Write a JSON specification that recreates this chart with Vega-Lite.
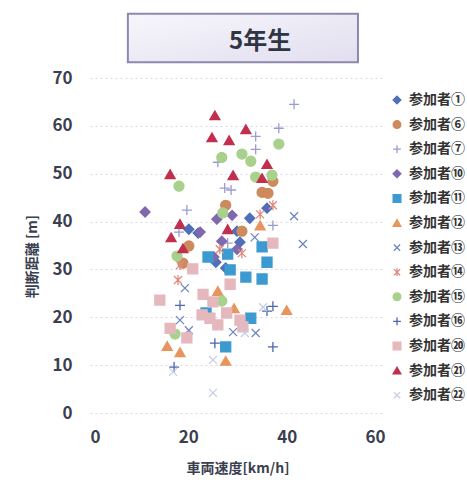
{
  "$schema": "https://vega.github.io/schema/vega-lite/v6.json",
  "autosize": "none",
  "width": 295,
  "height": 335,
  "padding": {"left": 90, "top": 78, "right": 82, "bottom": 80},
  "background": "#ffffff",
  "config": {
    "font": "Noto Sans CJK JP",
    "view": {"stroke": null},
    "axis": {
      "domain": false,
      "ticks": false,
      "labelFontSize": 17,
      "labelFontWeight": "bold",
      "labelColor": "#3a3f4f",
      "titleFontSize": 14,
      "titleFontWeight": "bold",
      "titleColor": "#3a3f4f"
    },
    "legend": {
      "orient": "none",
      "legendX": 300,
      "legendY": 15,
      "padding": 0,
      "title": null,
      "labelFontSize": 14,
      "labelFontWeight": "bold",
      "labelColor": "#333333",
      "labelOffset": 5,
      "labelLimit": 200,
      "symbolSize": 60,
      "symbolStrokeWidth": 1.3,
      "rowPadding": 10.6
    }
  },
  "layer": [
    {
      "data": {"values": [{}]},
      "mark": {
        "type": "rect",
        "stroke": "#8f88ad",
        "strokeWidth": 2,
        "fill": {
          "gradient": "linear",
          "x1": 0, "y1": 0, "x2": 1, "y2": 1,
          "stops": [
            {"offset": 0, "color": "#f7f6fb"},
            {"offset": 1, "color": "#e2def0"}
          ]
        }
      },
      "encoding": {
        "x": {"datum": 7.7, "type": "quantitative", "scale": {"domain": [0, 60], "nice": false}},
        "x2": {"datum": 54.5},
        "y": {"datum": 83.4, "type": "quantitative", "scale": {"domain": [0, 70], "nice": false}},
        "y2": {"datum": 73.3}
      }
    },
    {
      "data": {"values": [{}]},
      "mark": {
        "type": "text",
        "text": "5年生",
        "fontSize": 24,
        "fontWeight": "bold",
        "color": "#2f3545",
        "align": "center",
        "baseline": "middle"
      },
      "encoding": {
        "x": {"datum": 34.6, "type": "quantitative"},
        "y": {"datum": 77.6, "type": "quantitative"}
      }
    },
    {
      "data": {
        "values": [
          {"p": "参加者①", "v": 36.0, "d": 42.8},
          {"p": "参加者①", "v": 32.5, "d": 40.7},
          {"p": "参加者①", "v": 22.0, "d": 37.6},
          {"p": "参加者①", "v": 20.1, "d": 38.4},
          {"p": "参加者①", "v": 29.9, "d": 38.0},
          {"p": "参加者①", "v": 30.5, "d": 35.7},
          {"p": "参加者①", "v": 27.6, "d": 30.3},
          {"p": "参加者①", "v": 25.6, "d": 31.5},
          {"p": "参加者⑥", "v": 35.0, "d": 46.1},
          {"p": "参加者⑥", "v": 36.2, "d": 45.9},
          {"p": "参加者⑥", "v": 37.2, "d": 48.4},
          {"p": "参加者⑥", "v": 27.6, "d": 43.4},
          {"p": "参加者⑥", "v": 30.9, "d": 38.0},
          {"p": "参加者⑥", "v": 20.1, "d": 34.9},
          {"p": "参加者⑥", "v": 18.9, "d": 31.3},
          {"p": "参加者⑦", "v": 41.5, "d": 64.5},
          {"p": "参加者⑦", "v": 38.4, "d": 59.5},
          {"p": "参加者⑦", "v": 33.7, "d": 57.8},
          {"p": "参加者⑦", "v": 33.7, "d": 55.1},
          {"p": "参加者⑦", "v": 26.0, "d": 52.4},
          {"p": "参加者⑦", "v": 27.4, "d": 47.0},
          {"p": "参加者⑦", "v": 28.7, "d": 46.6},
          {"p": "参加者⑦", "v": 19.7, "d": 42.4},
          {"p": "参加者⑦", "v": 18.1, "d": 37.8},
          {"p": "参加者⑦", "v": 37.2, "d": 39.2},
          {"p": "参加者⑦", "v": 28.0, "d": 35.5},
          {"p": "参加者⑩", "v": 11.2, "d": 42.0},
          {"p": "参加者⑩", "v": 28.9, "d": 41.3},
          {"p": "参加者⑩", "v": 25.8, "d": 40.5},
          {"p": "参加者⑩", "v": 22.4, "d": 37.8},
          {"p": "参加者⑩", "v": 26.8, "d": 35.9},
          {"p": "参加者⑩", "v": 29.9, "d": 34.2},
          {"p": "参加者⑩", "v": 25.2, "d": 32.6},
          {"p": "参加者⑪", "v": 24.0, "d": 32.6},
          {"p": "参加者⑪", "v": 28.0, "d": 33.2},
          {"p": "参加者⑪", "v": 35.0, "d": 34.7},
          {"p": "参加者⑪", "v": 36.0, "d": 31.5},
          {"p": "参加者⑪", "v": 28.5, "d": 29.9},
          {"p": "参加者⑪", "v": 31.7, "d": 28.4},
          {"p": "参加者⑪", "v": 35.0, "d": 28.0},
          {"p": "参加者⑪", "v": 32.7, "d": 19.8},
          {"p": "参加者⑪", "v": 23.6, "d": 20.9},
          {"p": "参加者⑪", "v": 27.6, "d": 13.8},
          {"p": "参加者⑫", "v": 34.6, "d": 39.2},
          {"p": "参加者⑫", "v": 26.0, "d": 25.5},
          {"p": "参加者⑫", "v": 29.3, "d": 21.9},
          {"p": "参加者⑫", "v": 40.0, "d": 21.5},
          {"p": "参加者⑫", "v": 15.7, "d": 14.0},
          {"p": "参加者⑫", "v": 18.3, "d": 12.7},
          {"p": "参加者⑫", "v": 27.6, "d": 10.9},
          {"p": "参加者⑬", "v": 41.5, "d": 41.1},
          {"p": "参加者⑬", "v": 43.3, "d": 35.3},
          {"p": "参加者⑬", "v": 18.3, "d": 19.4},
          {"p": "参加者⑬", "v": 20.1, "d": 17.3},
          {"p": "参加者⑬", "v": 29.1, "d": 16.9},
          {"p": "参加者⑬", "v": 33.7, "d": 16.7},
          {"p": "参加者⑬", "v": 33.5, "d": 36.7},
          {"p": "参加者⑬", "v": 19.3, "d": 26.1},
          {"p": "参加者⑭", "v": 37.2, "d": 43.4},
          {"p": "参加者⑭", "v": 34.6, "d": 41.5},
          {"p": "参加者⑭", "v": 30.9, "d": 33.4},
          {"p": "参加者⑭", "v": 26.4, "d": 34.2},
          {"p": "参加者⑭", "v": 17.9, "d": 27.8},
          {"p": "参加者⑭", "v": 18.3, "d": 30.9},
          {"p": "参加者⑮", "v": 38.4, "d": 56.2},
          {"p": "参加者⑮", "v": 26.8, "d": 53.4},
          {"p": "参加者⑮", "v": 30.9, "d": 54.1},
          {"p": "参加者⑮", "v": 32.7, "d": 52.6},
          {"p": "参加者⑮", "v": 18.1, "d": 47.4},
          {"p": "参加者⑮", "v": 33.7, "d": 49.3},
          {"p": "参加者⑮", "v": 37.0, "d": 49.7},
          {"p": "参加者⑮", "v": 27.0, "d": 41.8},
          {"p": "参加者⑮", "v": 17.7, "d": 32.8},
          {"p": "参加者⑮", "v": 26.8, "d": 23.4},
          {"p": "参加者⑮", "v": 17.3, "d": 16.5},
          {"p": "参加者⑯", "v": 18.3, "d": 22.5},
          {"p": "参加者⑯", "v": 25.4, "d": 14.6},
          {"p": "参加者⑯", "v": 37.2, "d": 22.3},
          {"p": "参加者⑯", "v": 36.0, "d": 21.3},
          {"p": "参加者⑯", "v": 37.2, "d": 13.8},
          {"p": "参加者⑯", "v": 17.1, "d": 9.6},
          {"p": "参加者⑳", "v": 14.2, "d": 23.6},
          {"p": "参加者⑳", "v": 20.9, "d": 30.1},
          {"p": "参加者⑳", "v": 23.0, "d": 24.8},
          {"p": "参加者⑳", "v": 25.0, "d": 23.2},
          {"p": "参加者⑳", "v": 22.8, "d": 20.5},
          {"p": "参加者⑳", "v": 24.4, "d": 19.8},
          {"p": "参加者⑳", "v": 26.0, "d": 18.4},
          {"p": "参加者⑳", "v": 27.8, "d": 20.9},
          {"p": "参加者⑳", "v": 30.5, "d": 19.4},
          {"p": "参加者⑳", "v": 31.1, "d": 18.0},
          {"p": "参加者⑳", "v": 16.3, "d": 17.7},
          {"p": "参加者⑳", "v": 19.7, "d": 15.7},
          {"p": "参加者⑳", "v": 28.5, "d": 26.9},
          {"p": "参加者⑳", "v": 37.2, "d": 35.5},
          {"p": "参加者㉑", "v": 25.4, "d": 62.2},
          {"p": "参加者㉑", "v": 24.8, "d": 57.6},
          {"p": "参加者㉑", "v": 28.3, "d": 57.0},
          {"p": "参加者㉑", "v": 31.7, "d": 59.3},
          {"p": "参加者㉑", "v": 16.3, "d": 49.9},
          {"p": "参加者㉑", "v": 29.1, "d": 49.7},
          {"p": "参加者㉑", "v": 36.0, "d": 52.0},
          {"p": "参加者㉑", "v": 35.0, "d": 49.1},
          {"p": "参加者㉑", "v": 18.3, "d": 39.5},
          {"p": "参加者㉑", "v": 16.5, "d": 36.7},
          {"p": "参加者㉑", "v": 18.9, "d": 34.4},
          {"p": "参加者㉑", "v": 28.0, "d": 38.4},
          {"p": "参加者㉒", "v": 35.2, "d": 22.1},
          {"p": "参加者㉒", "v": 25.0, "d": 11.1},
          {"p": "参加者㉒", "v": 16.9, "d": 8.6},
          {"p": "参加者㉒", "v": 25.0, "d": 4.2},
          {"p": "参加者㉒", "v": 31.5, "d": 16.7}
        ]
      },
      "mark": {"type": "point", "filled": true, "opacity": 1, "size": 100, "strokeWidth": 1.3},
      "encoding": {
        "x": {
          "field": "v",
          "type": "quantitative",
          "scale": {"domain": [0, 60], "nice": false},
          "axis": {
            "title": "車両速度[km/h]",
            "values": [0, 20, 40, 60],
            "grid": false,
            "labelPadding": 16,
            "titlePadding": 16
          }
        },
        "y": {
          "field": "d",
          "type": "quantitative",
          "scale": {"domain": [0, 70], "nice": false},
          "axis": {
            "title": "判断距離 [m]",
            "values": [0, 10, 20, 30, 40, 50, 60, 70],
            "grid": true,
            "gridColor": "#d9d9e0",
            "gridDash": [2, 3],
            "labelPadding": 18,
            "titlePadding": 12,
            "titleY": 178
          }
        },
        "fill": {
          "field": "p",
          "type": "nominal",
          "scale": {
            "domain": ["参加者①", "参加者⑥", "参加者⑦", "参加者⑩", "参加者⑪", "参加者⑫", "参加者⑬", "参加者⑭", "参加者⑮", "参加者⑯", "参加者⑳", "参加者㉑", "参加者㉒"],
            "range": ["#4f6fb8", "#cd8a5c", "#9a9ccf", "#7f68ad", "#3d9ad1", "#e8955d", "#6f86c0", "#e08a7c", "#a9d18e", "#4d67ae", "#e5b8bd", "#c0304e", "#c8cde4"]
          }
        },
        "stroke": {
          "field": "p",
          "type": "nominal",
          "scale": {
            "domain": ["参加者①", "参加者⑥", "参加者⑦", "参加者⑩", "参加者⑪", "参加者⑫", "参加者⑬", "参加者⑭", "参加者⑮", "参加者⑯", "参加者⑳", "参加者㉑", "参加者㉒"],
            "range": ["#4f6fb8", "#cd8a5c", "#9a9ccf", "#7f68ad", "#3d9ad1", "#e8955d", "#6f86c0", "#e08a7c", "#a9d18e", "#4d67ae", "#e5b8bd", "#c0304e", "#c8cde4"]
          }
        },
        "shape": {
          "field": "p",
          "type": "nominal",
          "scale": {
            "domain": ["参加者①", "参加者⑥", "参加者⑦", "参加者⑩", "参加者⑪", "参加者⑫", "参加者⑬", "参加者⑭", "参加者⑮", "参加者⑯", "参加者⑳", "参加者㉑", "参加者㉒"],
            "range": [
              "diamond",
              "circle",
              "M-1,0L1,0M0,-1L0,1",
              "diamond",
              "square",
              "triangle-up",
              "M-0.8,-0.8L0.8,0.8M-0.8,0.8L0.8,-0.8",
              "M-0.8,-0.8L0.8,0.8M-0.8,0.8L0.8,-0.8M0,-1L0,1",
              "circle",
              "M-1,0L1,0M0,-1L0,1",
              "square",
              "triangle-up",
              "M-0.8,-0.8L0.8,0.8M-0.8,0.8L0.8,-0.8"
            ]
          }
        }
      }
    }
  ]
}
